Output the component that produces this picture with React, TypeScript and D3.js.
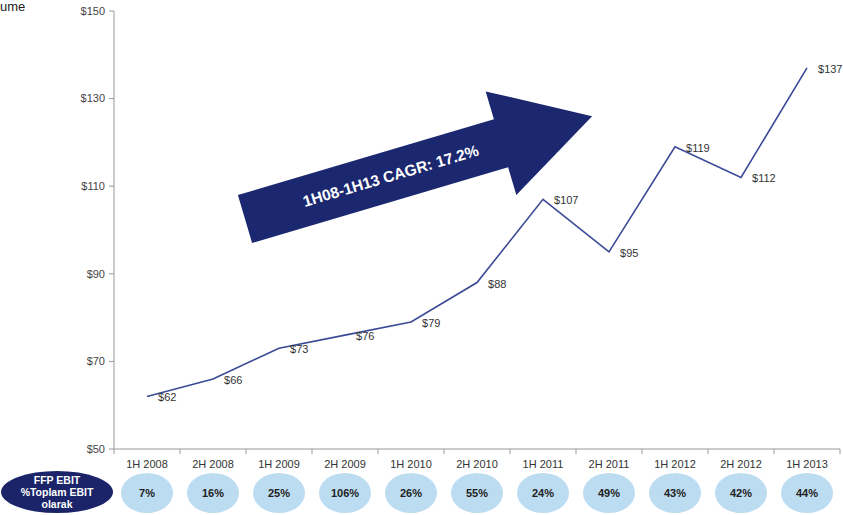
import React from "react";
import * as d3 from "d3";

const categories = ["1H 2008", "2H 2008", "1H 2009", "2H 2009", "1H 2010", "2H 2010", "1H 2011", "2H 2011", "1H 2012", "2H 2012", "1H 2013"];
const values = [62, 66, 73, 76, 79, 88, 107, 95, 119, 112, 137];
const ebitShares = ["7%", "16%", "25%", "106%", "26%", "55%", "24%", "49%", "43%", "42%", "44%"];
const yTicks = [50, 70, 90, 110, 130, 150];
const arrowText = "1H08-1H13 CAGR: 17.2%";
const badgeLines = ["FFP EBIT", "%Toplam EBIT", "olarak"];

const W = 843, H = 515;
const left = 114, right = 840, top = 11, bottom = 449;

export default function App() {
  const x = d3.scaleBand<string>().domain(categories).range([left, right]);
  const y = d3.scaleLinear().domain([50, 150]).range([bottom, top]);
  const cx = (c: string) => (x(c) as number) + x.bandwidth() / 2;
  const line = d3.line<number>().x((_, i) => cx(categories[i])).y((v) => y(v));
  const font = "Arial, 'Liberation Sans', sans-serif";

  const arrowLen = 362, shaftH = 50, headH = 108, headLen = 95;
  const arrowPts: [number, number][] = [
    [0, -shaftH / 2], [arrowLen - headLen, -shaftH / 2], [arrowLen - headLen, -headH / 2],
    [arrowLen, 0], [arrowLen - headLen, headH / 2], [arrowLen - headLen, shaftH / 2], [0, shaftH / 2],
  ];

  return (
    <svg width={W} height={H} style={{ position: "absolute", left: 0, top: 0, background: "#fff" }} fontFamily={font}>
      <text x={0} y={11} fontSize={13} fill="#222">ume</text>
      <line x1={left} x2={left} y1={top} y2={bottom} stroke="#999" />
      <line x1={left} x2={right} y1={bottom} y2={bottom} stroke="#999" />
      {yTicks.map((t) => (
        <g key={t}>
          <line x1={left - 5} x2={left} y1={y(t)} y2={y(t)} stroke="#999" />
          <text x={left - 9} y={y(t)} dy="0.35em" textAnchor="end" fontSize={11} fill="#444">${t}</text>
        </g>
      ))}
      {categories.map((c, i) => (
        <g key={c}>
          <line x1={(x(c) as number) + x.bandwidth()} x2={(x(c) as number) + x.bandwidth()} y1={bottom} y2={bottom + 5} stroke="#999" />
          <text x={cx(c)} y={bottom + 15} dy="0.35em" textAnchor="middle" fontSize={11} fill="#333">{c}</text>
          <ellipse cx={cx(c)} cy={493} rx={26} ry={20} fill="#bcdcf1" />
          <text x={cx(c)} y={493} dy="0.35em" textAnchor="middle" fontSize={11} fontWeight="bold" fill="#222">{ebitShares[i]}</text>
        </g>
      ))}
      <line x1={left} x2={left} y1={bottom} y2={bottom + 5} stroke="#999" />
      <path d={line(values) || ""} fill="none" stroke="#3b4a96" strokeWidth={1.6} />
      {values.map((v, i) => (
        <text key={i} x={cx(categories[i]) + 11} y={y(v)} dy="0.45em" fontSize={11} fill="#333">${v}</text>
      ))}
      <g transform="translate(245,219) rotate(-16.5)">
        <polygon points={arrowPts.map((p) => p.join(",")).join(" ")} fill="#1b2870" />
        <text x={152} y={0} dy="0.35em" textAnchor="middle" fontSize={15.5} fontWeight="bold" fill="#fff">{arrowText}</text>
      </g>
      <ellipse cx={57} cy={492} rx={56} ry={21} fill="#1b2468" />
      {badgeLines.map((l, i) => (
        <text key={l} x={57} y={480 + i * 12} dy="0.35em" textAnchor="middle" fontSize={10.5} fontWeight="bold" fill="#fff">{l}</text>
      ))}
    </svg>
  );
}
